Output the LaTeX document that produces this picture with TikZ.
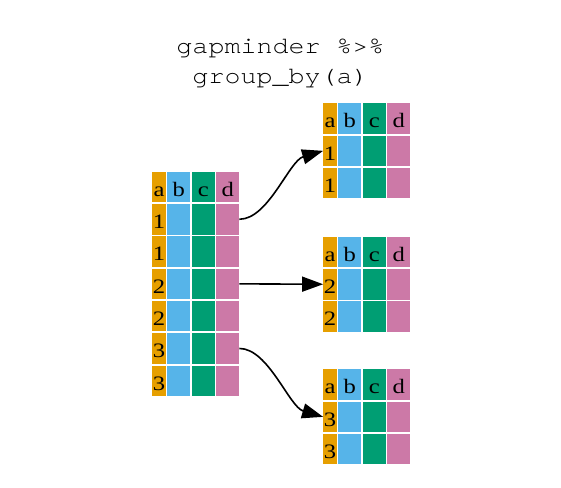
\documentclass[tikz,border=0pt]{standalone}
\usepackage{fontspec}
\setmainfont{Liberation Serif}
\newfontfamily\cellfont[FakeStretch=1.2]{Liberation Serif}
\newfontfamily\codefont[FakeStretch=1.13]{TeX Gyre Cursor}
\usetikzlibrary{arrows.meta}
\definecolor{A}{RGB}{230,159,0}
\definecolor{B}{RGB}{86,180,233}
\definecolor{C}{RGB}{0,158,115}
\definecolor{D}{RGB}{204,121,167}
\tikzset{
  cell/.style={inner sep=0pt,minimum height=30.5pt,text height=24.5pt,text depth=6pt,font=\cellfont\fontsize{20.5}{24}\selectfont},
  acell/.style={cell,fill=A,minimum width=13.5pt},
  wcell/.style={cell,minimum width=22.8pt},
  title/.style={anchor=base,font=\codefont\fontsize{23.6}{30}\selectfont},
  link/.style={line width=1.6pt,-{Triangle[length=21pt,width=15pt]}}
}
\newcommand{\drawtable}[4]{
    \node[acell] (#1-0-a) at (#2+6.75,#3+15.25) {a};
    \node[wcell,fill=B] (#1-0-b) at (#2+26.5,#3+15.25) {b};
    \node[wcell,fill=C] (#1-0-c) at (#2+51,#3+15.25) {c};
    \node[wcell,fill=D] (#1-0-d) at (#2+75.5,#3+15.25) {d};
    \foreach \v [count=\r] in {#4}{
      \node[acell] (#1-\r-a) at (#2+6.75,#3+15.25+\r*32.3) {\v};
      \node[wcell,fill=B] (#1-\r-b) at (#2+26.5,#3+15.25+\r*32.3) {};
      \node[wcell,fill=C] (#1-\r-c) at (#2+51,#3+15.25+\r*32.3) {};
      \node[wcell,fill=D] (#1-\r-d) at (#2+75.5,#3+15.25+\r*32.3) {};
    }
}
\begin{document}
\begin{tikzpicture}[x=1pt,y=-1pt]
\useasboundingbox[fill=white] (0,0) rectangle (561,487);
\node[title] (title1) at (280.5,53) {gapminder \%>\%};
\node[title] (title2) at (280.5,83) {group\_by(a)};
\drawtable{L}{152.3}{171.7}{1,1,2,2,3,3}
\drawtable{G1}{323.3}{103.3}{1,1}
\drawtable{G2}{323.3}{236.7}{2,2}
\drawtable{G3}{323.3}{369.3}{3,3}
\draw[link] (L-1-d.east) .. controls +(29,0) and +(-34,10) .. (G1-1-a.west);
\draw[link] (L-3-d.east) -- (G2-1-a.west);
\draw[link] (L-5-d.east) .. controls +(29,0) and +(-34,-10) .. (G3-1-a.west);
\end{tikzpicture}
\end{document}
